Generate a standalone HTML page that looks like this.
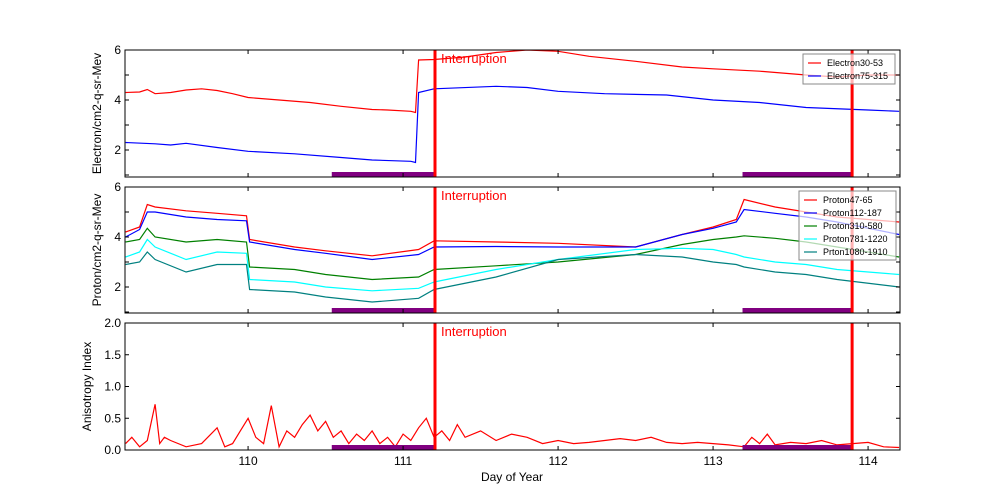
<!DOCTYPE html>
<html><head><meta charset="utf-8"><style>
body{margin:0;background:#fff;}
svg{display:block;font-family:"Liberation Sans","DejaVu Sans",sans-serif;}
</style></head><body>
<svg id="chart" width="1000" height="500"></svg>
<script>
// ---- data ----
const e1Days=[109.21,109.3,109.35,109.4,109.5,109.6,109.7,109.8,109.9,110.0,110.2,110.4,110.6,110.8,110.9,111.05,111.08,111.1,111.2,111.4,111.6,111.8,112.0,112.2,112.5,112.8,113.0,113.3,113.6,113.8,114.0,114.2];
const e1Vals=[4.3,4.32,4.42,4.25,4.3,4.4,4.45,4.38,4.25,4.1,4.0,3.9,3.75,3.62,3.6,3.55,3.5,5.6,5.62,5.72,5.9,6.0,5.95,5.75,5.55,5.32,5.25,5.15,5.0,4.92,5.0,5.0];
const e2Days=[109.21,109.4,109.5,109.6,109.8,110.0,110.3,110.6,110.8,111.05,111.08,111.1,111.2,111.6,111.8,112.0,112.3,112.7,113.0,113.3,113.6,114.0,114.2];
const e2Vals=[2.3,2.25,2.2,2.27,2.1,1.95,1.85,1.7,1.6,1.55,1.5,4.3,4.45,4.55,4.5,4.35,4.25,4.2,4.0,3.9,3.7,3.6,3.55];
const pDays=[109.21,109.3,109.35,109.4,109.6,109.8,109.99,110.01,110.3,110.5,110.8,111.1,111.2,111.6,112.0,112.5,112.8,113.0,113.15,113.2,113.4,113.6,113.8,114.2];
const p1=[4.2,4.4,5.3,5.2,5.05,4.95,4.85,3.9,3.6,3.45,3.25,3.5,3.85,3.8,3.75,3.6,4.1,4.4,4.7,5.5,5.2,5.0,4.8,4.6];
const p2=[4.0,4.3,5.0,5.0,4.8,4.7,4.65,3.8,3.5,3.35,3.1,3.3,3.6,3.62,3.6,3.6,4.1,4.35,4.6,5.1,4.95,4.8,4.6,4.1];
const p3=[3.8,3.9,4.35,4.0,3.8,3.9,3.8,2.8,2.7,2.5,2.3,2.4,2.7,2.85,3.0,3.3,3.7,3.9,4.0,4.05,3.95,3.8,3.6,3.2];
const p4=[3.2,3.4,3.9,3.6,3.1,3.4,3.35,2.3,2.2,2.0,1.85,1.95,2.2,2.7,3.1,3.5,3.55,3.5,3.3,3.2,3.0,2.9,2.7,2.5];
const p5=[2.9,3.0,3.4,3.1,2.6,2.9,2.9,1.9,1.8,1.6,1.4,1.55,1.9,2.4,3.1,3.3,3.2,3.0,2.9,2.8,2.6,2.5,2.3,2.0];
const aDays=[109.21,109.25,109.3,109.35,109.4,109.43,109.46,109.5,109.6,109.7,109.8,109.85,109.9,109.95,110.0,110.05,110.1,110.15,110.2,110.25,110.3,110.35,110.4,110.45,110.5,110.55,110.6,110.65,110.7,110.75,110.8,110.85,110.9,110.95,111.0,111.05,111.1,111.15,111.2,111.25,111.3,111.35,111.4,111.5,111.6,111.7,111.8,111.9,112.0,112.1,112.2,112.3,112.4,112.5,112.6,112.7,112.8,112.9,113.0,113.1,113.2,113.25,113.3,113.35,113.4,113.5,113.6,113.7,113.8,113.9,114.0,114.1,114.2];
const aVals=[0.1,0.2,0.05,0.15,0.72,0.1,0.2,0.15,0.05,0.1,0.35,0.05,0.1,0.3,0.5,0.2,0.1,0.7,0.05,0.3,0.2,0.4,0.55,0.3,0.45,0.2,0.3,0.1,0.25,0.15,0.3,0.1,0.2,0.05,0.25,0.15,0.35,0.5,0.2,0.3,0.15,0.4,0.2,0.3,0.15,0.25,0.2,0.1,0.15,0.1,0.12,0.15,0.18,0.15,0.2,0.12,0.1,0.12,0.1,0.08,0.05,0.2,0.1,0.25,0.08,0.12,0.1,0.15,0.08,0.1,0.12,0.05,0.04];
const xTicks=[110,111,112,113,114];
const interruptDays=[111.206,113.897];
const gaps=[[110.54,111.206],[113.19,113.897]];
// ---- layout ----
const X0=125,X1=900,D0=109.206,D1=114.206;
const xs=d=>X0+(d-D0)/(D1-D0)*(X1-X0);
const panels=[
 {name:'electron',top:50,bot:177,min:0.92,max:6,ticks:[1,2,3,4,5,6],labels:[2,4,6],fmt:v=>v,ylabel:'Electron/cm2-q-sr-Mev'},
 {name:'proton',top:187,bot:313,min:0.96,max:6,ticks:[1,2,3,4,5,6],labels:[2,4,6],fmt:v=>v,ylabel:'Proton/cm2-q-sr-Mev'},
 {name:'anisotropy',top:323,bot:450,min:0,max:2,ticks:[0,0.5,1,1.5,2],labels:[0,0.5,1,1.5,2],fmt:v=>v.toFixed(1),ylabel:'Anisotropy Index'}];
const svg=document.getElementById('chart');
const NS='http://www.w3.org/2000/svg';
function mk(tag,attrs,parent){const e=document.createElementNS(NS,tag);for(const k in attrs)e.setAttribute(k,attrs[k]);(parent||svg).appendChild(e);return e;}
function line(p,days,vals,color,nm){
 const ys=v=>p.bot-(v-p.min)/(p.max-p.min)*(p.bot-p.top);
 const pts=days.map((d,i)=>xs(d).toFixed(1)+','+ys(vals[i]).toFixed(1)).join(' ');
 const el=mk('polyline',{points:pts,fill:'none',stroke:color,'stroke-width':1.2});
 
 
}
const series=[
 [[e1Days,e1Vals,'#ff0000','electron30-53-line'],[e2Days,e2Vals,'#0000ff','electron75-315-line']],
 [[pDays,p1,'#ff0000','proton47-65-line'],[pDays,p2,'#0000ff','proton112-187-line'],[pDays,p3,'#008000','proton310-580-line'],[pDays,p4,'#00ffff','proton781-1220-line'],[pDays,p5,'#008080','proton1080-1910-line']],
 [[aDays,aVals,'#ff0000','anisotropy-line']]];
panels.forEach((p,pi)=>{
 const ys=v=>p.bot-(v-p.min)/(p.max-p.min)*(p.bot-p.top);
 const cp=mk('clipPath',{id:'c'+pi});mk('rect',{x:X0,y:p.top,width:X1-X0,height:p.bot-p.top},cp);
 const g=mk('g',{'clip-path':'url(#c'+pi+')'});
 
 
 const old=svg;
 series[pi].forEach(s=>{const e=document.createElementNS(NS,'g');g.appendChild(e);});
 series[pi].forEach(s=>{
  const pts=s[0].map((d,i)=>xs(d).toFixed(1)+','+ys(s[1][i]).toFixed(1)).join(' ');
  const el=mk('polyline',{points:pts,fill:'none',stroke:s[2],'stroke-width':1.2},g);
  
  
 });
 gaps.forEach(gp=>{
  const r=mk('rect',{x:xs(gp[0]),y:p.bot-5,width:xs(gp[1])-xs(gp[0]),height:5,fill:'#800080'},g);
  
  
 });
 interruptDays.forEach(d=>{
  const l=mk('line',{x1:xs(d),x2:xs(d),y1:p.top,y2:p.bot,stroke:'#ff0000','stroke-width':3});
  
  
 });
 const t=mk('text',{x:xs(interruptDays[0])+6,y:p.top+13,fill:'#ff0000','font-size':13});
 t.textContent='Interruption';
 
 
 const fr=mk('rect',{x:X0,y:p.top,width:X1-X0,height:p.bot-p.top,fill:'none',stroke:'#000','stroke-width':1});
 
 
 p.ticks.forEach(v=>{const y=ys(v);mk('line',{x1:X0,x2:X0+4,y1:y,y2:y,stroke:'#000'});mk('line',{x1:X1,x2:X1-4,y1:y,y2:y,stroke:'#000'});});
 p.labels.forEach(v=>{const t=mk('text',{x:X0-4,y:ys(v)+4,'text-anchor':'end','font-size':12});t.textContent=p.fmt(v);
  });
 xTicks.forEach(d=>{const x=xs(d);mk('line',{x1:x,x2:x,y1:p.bot,y2:p.bot-4,stroke:'#000'});mk('line',{x1:x,x2:x,y1:p.top,y2:p.top+4,stroke:'#000'});});
 const yl=mk('text',{transform:'translate('+(pi==2?91:101)+','+((p.top+p.bot)/2)+') rotate(-90)','text-anchor':'middle','font-size':12});
 yl.textContent=p.ylabel;
 
 
});
xTicks.forEach(d=>{const t=mk('text',{x:xs(d),y:465,'text-anchor':'middle','font-size':12});t.textContent=d;
 });
const xt=mk('text',{x:512,y:481,'text-anchor':'middle','font-size':12});xt.textContent='Day of Year';

function legend(x,y,w,items,nm){
 const g=mk('g',{});
 
 
 mk('rect',{x:x,y:y,width:w,height:items.length*13+4,fill:'#fff','fill-opacity':0.7,stroke:'#888'},g);
 items.forEach((it,i)=>{const yy=y+9+i*13;mk('line',{x1:x+5,x2:x+18,y1:yy,y2:yy,stroke:it[1],'stroke-width':1.2},g);
  const t=mk('text',{x:x+24,y:yy+3,'font-size':9},g);t.textContent=it[0];
  });
}
legend(803,54,92,[['Electron30-53','#ff0000'],['Electron75-315','#0000ff']],'electron-legend');
legend(799,191,97,[['Proton47-65','#ff0000'],['Proton112-187','#0000ff'],['Proton310-580','#008000'],['Proton781-1220','#00ffff'],['Prton1080-1910','#008080']],'proton-legend');
</script>
</body></html>
